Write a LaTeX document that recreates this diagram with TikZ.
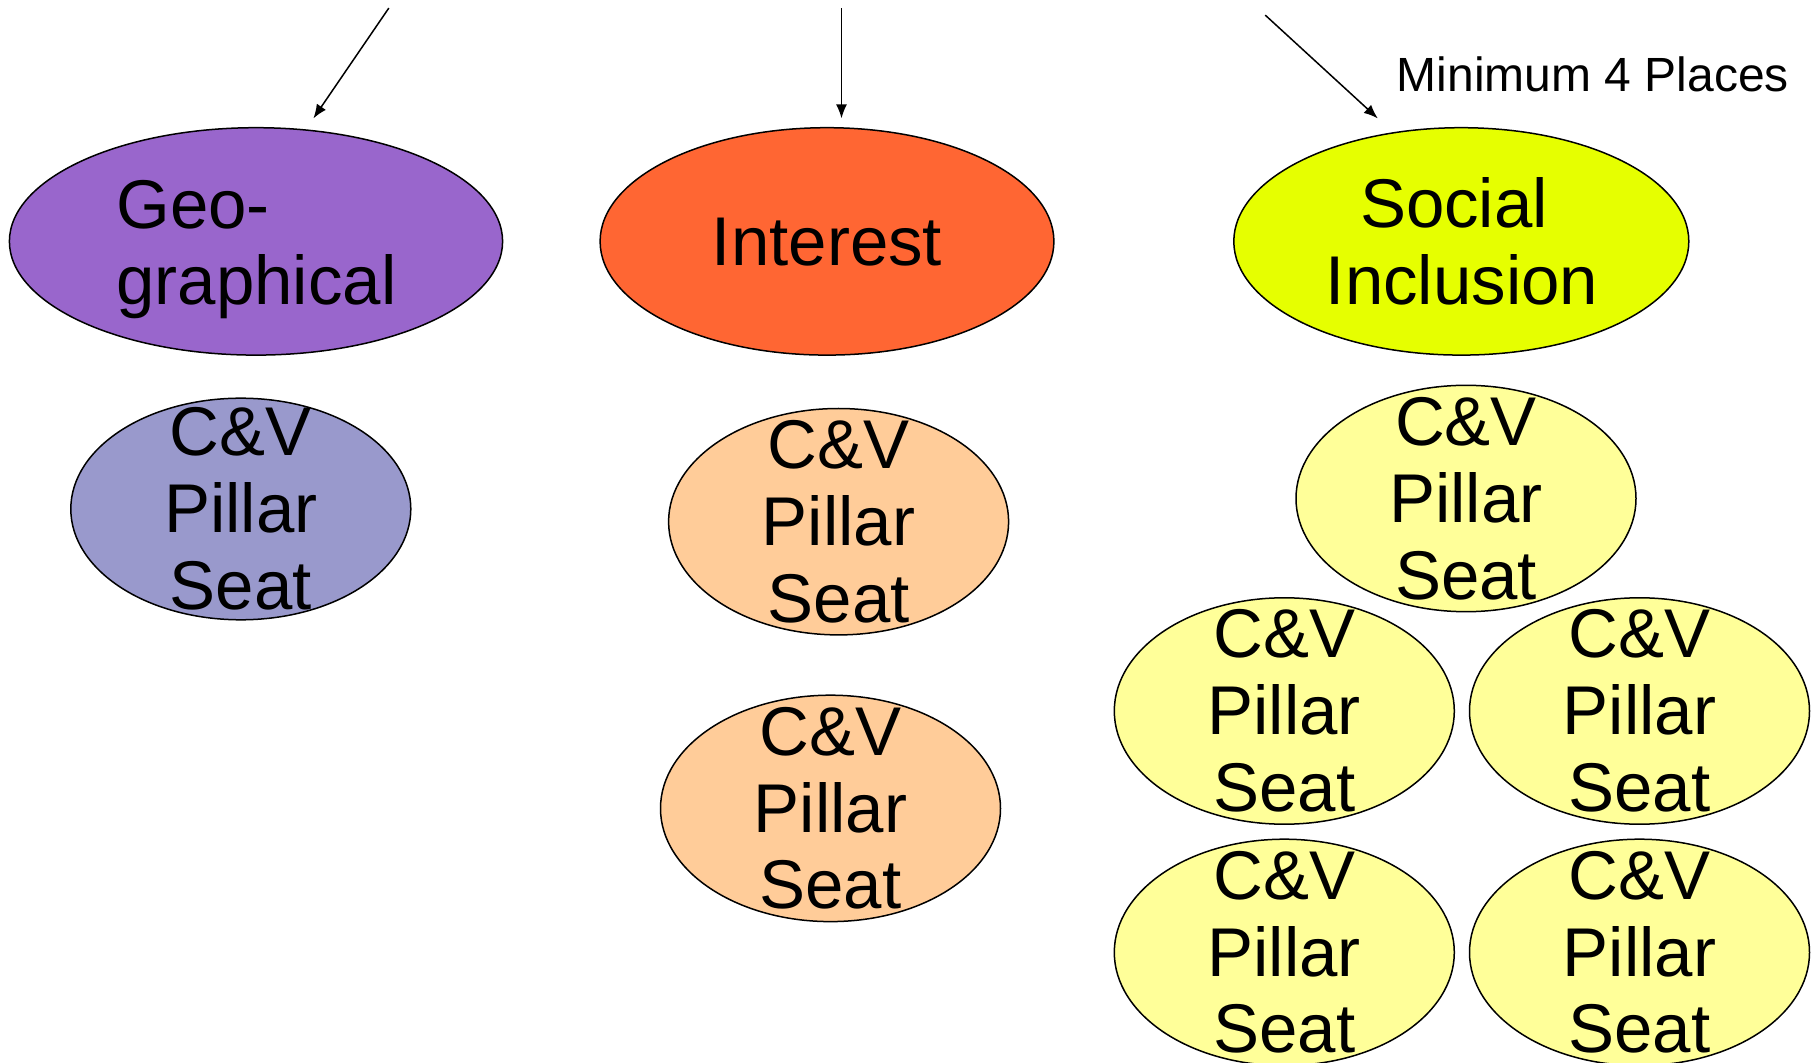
\documentclass[tikz,border=0pt]{standalone}
\usepackage{fontspec}
\setmainfont{Liberation Sans}
\usetikzlibrary{shapes.geometric,arrows.meta}
\definecolor{geocol}{RGB}{153,102,204}
\definecolor{intcol}{RGB}{255,102,51}
\definecolor{soccol}{RGB}{230,255,0}
\definecolor{bluecv}{RGB}{153,153,204}
\definecolor{orangecv}{RGB}{255,204,153}
\definecolor{yellowcv}{RGB}{255,255,153}
\tikzset{
  ell/.style={ellipse, draw=black, line width=0.75pt, inner sep=0pt},
  headell/.style={ell, minimum height=113.7pt},
  cvell/.style={ell, minimum width=170pt, minimum height=112pt},
  bigtxt/.style={inner sep=0pt, font=\fontsize{34.5}{38.4}\selectfont},
  cvtxt/.style={bigtxt, align=center},
  arr/.style={line width=0.75pt, -{Latex[length=7pt,width=5.5pt]}},
  note/.style={inner sep=0pt, font=\fontsize{24}{28}\selectfont}
}
\begin{document}
\begin{tikzpicture}[x=0.5pt,y=-0.5pt]
\useasboundingbox (0,0) rectangle (1820,1063);
% header ellipses
\node[headell, fill=geocol, minimum width=246.6pt] (geo) at (256,241.4) {};
\node[bigtxt, align=left] (geot) at (256.5,249.6) {Geo-\\graphical};
\node[headell, fill=intcol, minimum width=226.9pt] (int) at (827,241.4) {};
\node[bigtxt] (intt) at (827,242) {Interest};
\node[headell, fill=soccol, minimum width=227.5pt] (soc) at (1461.3,241.4) {};
\node[bigtxt, align=center] (soct) at (1462,241.4) {Social\hspace*{8pt}\\Inclusion};
% arrows
\coordinate (a1s) at (388.8,8.1);   \coordinate (a1e) at (313.4,118.4);
\coordinate (a2s) at (841.5,8.1);   \coordinate (a2e) at (841.5,118.4);
\coordinate (a3s) at (1265.2,15.1); \coordinate (a3e) at (1377.8,118.4);
\draw[arr] (a1s) -- (a1e);
\draw[arr] (a2s) -- (a2e);
\draw[arr] (a3s) -- (a3e);
\node[note] (min) at (1593,74) {Minimum 4 Places};
% C&V seats
\node[cvell, fill=bluecv, minimum height=110.8pt] (b1) at (240.8,509) {};
\node[cvtxt] (b1t) at (b1.center) {C\&V\\Pillar\\Seat};
\node[cvell, fill=orangecv, minimum height=113.2pt] (o1) at (838.6,521.7) {};
\node[cvtxt] (o1t) at (o1.center) {C\&V\\Pillar\\Seat};
\node[cvell, fill=orangecv, minimum height=113.2pt] (o2) at (830.5,808.4) {};
\node[cvtxt] (o2t) at (o2.center) {C\&V\\Pillar\\Seat};
\node[cvell, fill=yellowcv, minimum height=113.2pt] (y1) at (1466,498.5) {};
\node[cvtxt] (y1t) at (y1.center) {C\&V\\Pillar\\Seat};
\node[cvell, fill=yellowcv, minimum height=113.2pt] (y2) at (1284.3,711) {};
\node[cvtxt] (y2t) at (y2.center) {C\&V\\Pillar\\Seat};
\node[cvell, fill=yellowcv, minimum height=113.2pt] (y3) at (1639.5,711) {};
\node[cvtxt] (y3t) at (y3.center) {C\&V\\Pillar\\Seat};
\node[cvell, fill=yellowcv, minimum height=113.2pt] (y4) at (1284.3,952.4) {};
\node[cvtxt] (y4t) at (y4.center) {C\&V\\Pillar\\Seat};
\node[cvell, fill=yellowcv, minimum height=113.2pt] (y5) at (1639.5,952.4) {};
\node[cvtxt] (y5t) at (y5.center) {C\&V\\Pillar\\Seat};
\end{tikzpicture}
\end{document}
